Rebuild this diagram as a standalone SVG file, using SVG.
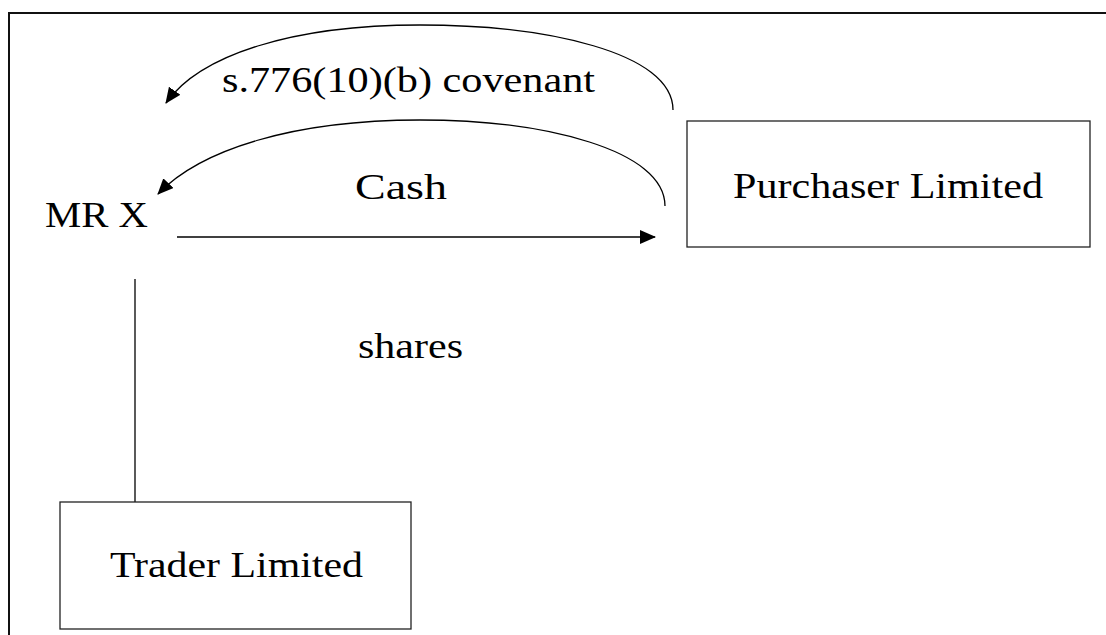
<svg xmlns="http://www.w3.org/2000/svg" width="1106" height="635" viewBox="0 0 1106 635">
  <style>
    .lbl { font-family: "Liberation Serif", "Times New Roman", serif; font-size: 35px; fill: #000; }
    .box { fill: #fff; stroke: #222; stroke-width: 1.3; }
    .edge { fill: none; stroke: #000; stroke-width: 1.3; }
    .frame { fill: none; stroke: #111; stroke-width: 2; }
  </style>
  <defs>
    <marker id="arrow" markerUnits="userSpaceOnUse" markerWidth="16" markerHeight="14" refX="15" refY="7" orient="auto">
      <path d="M0,0 L16,7 L0,14 Z" fill="#000"/>
    </marker>
  </defs>

  <rect width="1106" height="635" fill="#fff"/>
  <!-- page frame: top and left edges -->
  <path class="frame" d="M9,635 L9,13 L1106,13"/>

  <g id="connectors">
    <!-- covenant given back to Mr X -->
    <path class="edge" marker-end="url(#arrow)" d="M673,110 C673,52 545,25 420,25 C292,25 200,55 166,103"/>
    <!-- cash paid to Mr X -->
    <path class="edge" marker-end="url(#arrow)" d="M665,206 C665,150 545,120 420,120 C292,120 200,150 158,194"/>
    <!-- shares transferred to purchaser -->
    <path class="edge" marker-end="url(#arrow)" d="M177,237 L655,237"/>
    <!-- Mr X shareholding in Trader -->
    <path class="edge" d="M135,279 L135,502"/>
  </g>

  <g id="label-covenant">
    <text class="lbl" x="222" y="92" textLength="373" lengthAdjust="spacingAndGlyphs">s.776(10)(b) covenant</text>
  </g>
  <g id="label-cash">
    <text class="lbl" x="355" y="199" textLength="92" lengthAdjust="spacingAndGlyphs">Cash</text>
  </g>
  <g id="label-shares">
    <text class="lbl" x="358" y="358" textLength="105" lengthAdjust="spacingAndGlyphs">shares</text>
  </g>

  <g id="node-mrx">
    <text class="lbl" x="45" y="227" textLength="103" lengthAdjust="spacingAndGlyphs">MR X</text>
  </g>

  <g id="node-purchaser">
    <rect class="box" x="687" y="121" width="403" height="126"/>
    <text class="lbl" x="733" y="198" textLength="310" lengthAdjust="spacingAndGlyphs">Purchaser Limited</text>
  </g>

  <g id="node-trader">
    <rect class="box" x="60" y="502" width="351" height="127"/>
    <text class="lbl" x="110" y="577" textLength="253" lengthAdjust="spacingAndGlyphs">Trader Limited</text>
  </g>
</svg>
